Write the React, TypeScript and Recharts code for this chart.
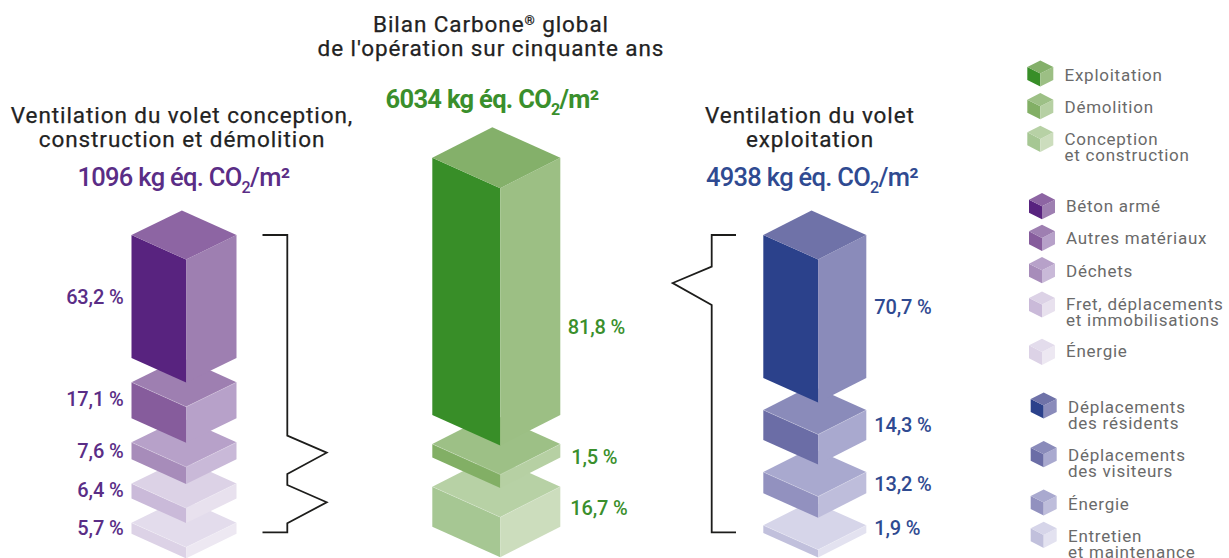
import * as React from 'react';
import { Bar, BarChart, XAxis, YAxis } from 'recharts';

// printed shares, top segment first
const conceptionShares = [63.2, 17.1, 7.6, 6.4, 5.7];
const globalShares = [81.8, 1.5, 16.7];
const exploitationShares = [70.7, 14.3, 13.2, 1.9];

// the original is not drawn to scale: block heights, in % of each column
const conceptionDrawn = [60.9, 17.8, 8.4, 7.4, 5.5];
const globalDrawn = [82.8, 4.3, 12.9];
const exploitationDrawn = [70.8, 14.9, 10.5, 3.8];

const conceptionColors = [
  ['#8d65a3', '#58237f', '#9e7fb1'],
  ['#9e7fb1', '#865c9c', '#b7a1c9'],
  ['#b7a1c9', '#a78cba', '#c9b9d8'],
  ['#dcd2e6', '#cabad9', '#e8e1ee'],
  ['#e3dcec', '#dcd2e6', '#ede8f2'],
];
const globalColors = [
  ['#84b06a', '#388e28', '#9cbf84'],
  ['#9dc086', '#82af65', '#b6d0a3'],
  ['#b7d1a5', '#a6c793', '#ccddbd'],
];
const exploitationColors = [
  ['#6f72a8', '#2b418b', '#8a8bba'],
  ['#8a8bba', '#6b6da6', '#a9a9cf'],
  ['#a9a9cf', '#9291bf', '#bebddb'],
  ['#d6d5e9', '#c1c0dc', '#e3e2f0'],
];

const greenLegend = [['Exploitation'], ['Démolition'], ['Conception', 'et construction']];
const purpleLegend = [
  ['Béton armé'],
  ['Autres matériaux'],
  ['Déchets'],
  ['Fret, déplacements', 'et immobilisations'],
  ['Énergie'],
];
const blueLegend = [
  ['Déplacements', 'des résidents'],
  ['Déplacements', 'des visiteurs'],
  ['Énergie'],
  ['Entretien', 'et maintenance'],
];

const WIDTH = 1229;
const HEIGHT = 558;
const FONT = 'Roboto, sans-serif';
const PURPLE = '#5a2d86';
const GREEN = '#3a8f2c';
const BLUE = '#2f4a91';

function pts(list: number[][]) {
  return list.map((p) => p.join(',')).join(' ');
}

function Faces({ x, y, w, h, d, ratio, colors, seam }: any) {
  const r = x + w;
  const f = x + w * ratio;
  const b = x + r - f;
  return (
    <g>
      <polygon points={pts([[x, y], [f, y + d], [f, y + d + h], [x, y + h]])} fill={colors[1]} />
      <polygon points={pts([[f, y + d], [r, y], [r, y + h], [f, y + d + h]])} fill={colors[2]} />
      <polygon points={pts([[b, y - d], [r, y], [f, y + d], [x, y]])} fill={colors[0]} />
      {seam && (
        <polyline
          points={pts([[x, y], [f, y + d], [r, y]])}
          fill="none"
          stroke="#fff"
          strokeOpacity={0.3}
          strokeWidth={0.7}
        />
      )}
    </g>
  );
}

function Column({ shares, drawn, colors, left, right, top, plot, gap, depth, ratio, labelSide, labelColor, labelGaps, labelShift }: any) {
  const row: Record<string, number | string> = { name: 'total' };
  drawn.forEach((v: number, i: number) => {
    row[`s${i}`] = v;
  });
  // lower blocks first, the block above overlaps them
  const order = drawn.map((_: number, i: number) => i).reverse();

  return (
    <div style={{ position: 'absolute', left: 0, top: 0 }}>
      <BarChart
        width={WIDTH}
        height={HEIGHT}
        data={[row]}
        barCategoryGap={0}
        margin={{ left, right: WIDTH - right, top, bottom: HEIGHT - top - plot }}
      >
        <XAxis dataKey="name" hide />
        <YAxis hide domain={[0, 100]} />
        {order.map((i: number) => (
          <Bar
            key={i}
            dataKey={`s${i}`}
            stackId="a"
            isAnimationActive={false}
            shape={(p: any) => {
              const y = p.y + i * gap;
              const text = `${String(shares[i]).replace('.', ',')} %`;
              const labelY = y + p.height / 2 + 7 + labelShift[i];
              return (
                <g>
                  <Faces x={p.x} y={y} w={p.width} h={p.height} d={depth} ratio={ratio} colors={colors[i]} seam={i > 0} />
                  <text
                    x={labelSide === 'left' ? p.x - labelGaps[i] : p.x + p.width + labelGaps[i]}
                    y={labelY}
                    textAnchor={labelSide === 'left' ? 'end' : 'start'}
                    fontFamily={FONT}
                    fontSize={20}
                    fontWeight={500}
                    letterSpacing={-0.15}
                    fill={labelColor}
                  >
                    {text}
                  </text>
                </g>
              );
            }}
          />
        ))}
      </BarChart>
    </div>
  );
}

function Title({ x, y, lines }: any) {
  return (
    <text
      fontFamily={FONT}
      fontSize={22.5}
      letterSpacing={0.92}
      fill="#222"
      stroke="#222"
      strokeWidth={0.25}
      textAnchor="middle"
    >
      {lines.map((line: string[], i: number) => (
        <tspan key={i} x={x} y={y + i * 24}>
          {line[0]}
          {line[1] && (
            <tspan fontSize={13} dy={-7}>
              {line[1]}
            </tspan>
          )}
          {line[2] && <tspan dy={7}>{line[2]}</tspan>}
        </tspan>
      ))}
    </text>
  );
}

function Total({ x, y, amount, color, weight }: any) {
  return (
    <text x={x} y={y} fontFamily={FONT} fontSize={25.5} fontWeight={weight} letterSpacing={-0.7} fill={color} textAnchor="middle">
      {amount} kg éq. CO
      <tspan fontSize={16} dy={7}>2</tspan>
      <tspan dy={-7}>/m²</tspan>
    </text>
  );
}

function LegendGroup({ items, colors, cubeX, textX, tops, baselines }: any) {
  return (
    <g>
      {items.map((lines: string[], i: number) => (
        <g key={i}>
          <Faces x={cubeX} y={tops[i] + 7} w={26} h={13} d={6.6} ratio={0.5} colors={colors[i]} />
          <text fontFamily={FONT} fontSize={17} letterSpacing={0.75} fill="#6a6a6a">
            {lines.map((line, j) => (
              <tspan key={j} x={textX} y={baselines[i] + j * 16}>
                {line}
              </tspan>
            ))}
          </text>
        </g>
      ))}
    </g>
  );
}

export default function App() {
  return (
    <div style={{ position: 'absolute', left: 0, top: 0, width: WIDTH, height: HEIGHT, overflow: 'hidden', background: '#fff' }}>
      <Column
        shares={conceptionShares}
        drawn={conceptionDrawn}
        colors={conceptionColors}
        left={131.5}
        right={236}
        top={235}
        plot={202}
        gap={24.2}
        depth={24.6}
        ratio={0.52}
        labelSide="left"
        labelColor={PURPLE}
        labelGaps={[8, 8, 8, 8, 8]}
        labelShift={[0, -1, 0, -1, 0]}
      />
      <Column
        shares={globalShares}
        drawn={globalDrawn}
        colors={globalColors}
        left={432.3}
        right={560.3}
        top={157.7}
        plot={310.6}
        gap={29.2}
        depth={30.5}
        ratio={0.531}
        labelSide="right"
        labelColor={GREEN}
        labelGaps={[7.5, 11, 10]}
        labelShift={[41, 6, 1]}
      />
      <Column
        shares={exploitationShares}
        drawn={exploitationDrawn}
        colors={exploitationColors}
        left={763.3}
        right={866.7}
        top={235}
        plot={202}
        gap={32}
        depth={24.4}
        ratio={0.532}
        labelSide="right"
        labelColor={BLUE}
        labelGaps={[8, 8, 8, 8]}
        labelShift={[0, 0, 1, -1]}
      />
      <svg width={WIDTH} height={HEIGHT} style={{ position: 'absolute', left: 0, top: 0 }}>
        <Title x={491} y={31.7} lines={[['Bilan Carbone', '®', ' global'], ["de l'opération sur cinquante ans"]]} />
        <Title x={182} y={122.7} lines={[['Ventilation du volet conception,'], ['construction et démolition']]} />
        <Title x={810} y={122.7} lines={[['Ventilation du volet'], ['exploitation']]} />
        <Total x={492} y={108.3} amount="6034" color={GREEN} weight={700} />
        <Total x={183.5} y={185.7} amount="1096" color={PURPLE} weight={500} />
        <Total x={812} y={185.7} amount="4938" color={BLUE} weight={500} />
        <polyline
          points="262.5,235 287.3,235 287.3,435.7 326.7,452.7 287.3,474 287.3,485 326.7,502.3 287.3,523.3 287.3,532.3 262.5,532.3"
          fill="none"
          stroke="#1d1d1b"
          strokeWidth={1.8}
        />
        <polyline
          points="736,235 711.7,235 711.7,266.7 672.7,283 711.7,305 711.7,532.3 736,532.3"
          fill="none"
          stroke="#1d1d1b"
          strokeWidth={1.8}
        />
        <LegendGroup
          items={greenLegend}
          colors={globalColors}
          cubeX={1027.3}
          textX={1064.5}
          tops={[60, 92.7, 125.3]}
          baselines={[80.7, 112.7, 145]}
        />
        <LegendGroup
          items={purpleLegend}
          colors={conceptionColors}
          cubeX={1029}
          textX={1066}
          tops={[192.7, 224.3, 256.7, 291, 338.3]}
          baselines={[212.3, 244.3, 277.3, 310, 357.3]}
        />
        <LegendGroup
          items={blueLegend}
          colors={exploitationColors}
          cubeX={1030.7}
          textX={1068}
          tops={[392, 440.7, 489, 521.3]}
          baselines={[413, 461.3, 509.7, 542]}
        />
      </svg>
    </div>
  );
}
